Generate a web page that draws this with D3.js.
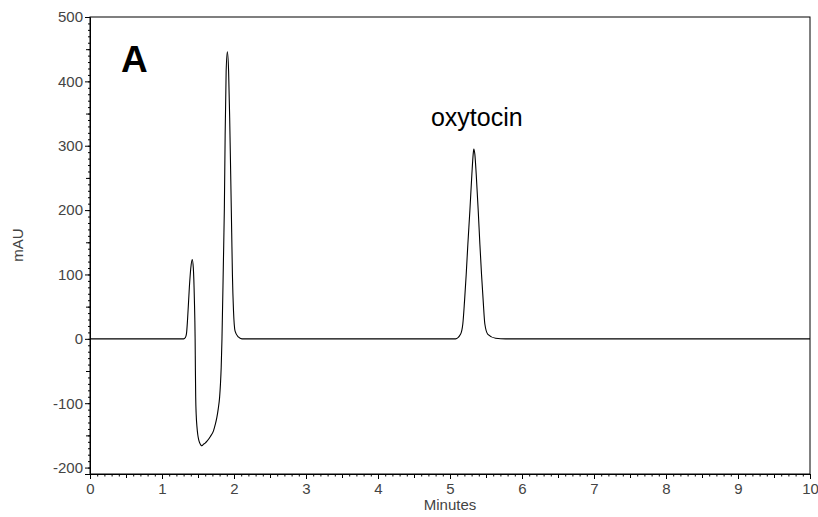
<!DOCTYPE html>
<html>
<head>
<meta charset="utf-8">
<script src="https://cdn.jsdelivr.net/npm/d3@7"></script>
<style>
  body { margin: 0; background: #fff; }
  text { font-family: "Liberation Sans", Arial, sans-serif; }
</style>
</head>
<body>
<script>
// trace (time in minutes, signal in mAU)
const timeMin = [
    0, 1.30, 1.325, 1.34, 1.355, 1.38, 1.40, 1.42, 1.435, 1.45, 1.46,
    1.464, 1.468, 1.475, 1.485, 1.497, 1.51, 1.525, 1.54, 1.555, 1.575, 1.60, 1.625,
    1.67, 1.715, 1.74, 1.762, 1.782, 1.80, 1.812, 1.822, 1.833,
    1.853, 1.866, 1.877, 1.891, 1.908,
    1.925, 1.94, 1.954, 1.968, 1.978, 1.993, 2.015, 2.06, 2.11,
    5.05, 5.077, 5.146, 5.178, 5.202, 5.225, 5.248, 5.276, 5.304, 5.322, 5.331,
    5.345, 5.364, 5.392, 5.415, 5.438, 5.461, 5.484, 5.526, 5.633, 5.772, 10
];
const signalMAU = [
    0, 0, 2, 8, 30, 80, 110, 123, 110, 60, 0,
    -50, -90, -118, -136, -149, -157, -162, -165, -166, -164, -162, -159,
    -152, -143, -133, -122, -108, -91, -70, -45, 0,
    121, 202, 316, 416, 446,
    416, 343, 256, 165, 100, 44, 12, 3, 0,
    0, 0, 7, 23, 59, 100, 147, 199, 256, 287, 295,
    287, 256, 199, 147, 100, 59, 23, 7, 1, 0, 0
];
const xTicks = [0, 1, 2, 3, 4, 5, 6, 7, 8, 9, 10];
const yTicks = [-200, -100, 0, 100, 200, 300, 400, 500];
const peakLabel = {text: "oxytocin", time: 5.33, value: 295};
const panelLetter = "A";

const W = 818, H = 517;
const margin = {top: 17, right: 8, bottom: 43, left: 90};
const width = W - margin.left - margin.right;
const height = H - margin.top - margin.bottom;

const data = timeMin.map((t, i) => ({t: t, v: signalMAU[i]}));

const svg = d3.select("body").append("svg")
    .attr("width", W)
    .attr("height", H);

const g = svg.append("g")
    .attr("transform", "translate(" + margin.left + "," + margin.top + ")");

const xScale = d3.scaleLinear().domain([0, 10]).range([0, width]);
const yScale = d3.scaleLinear().domain([-210, 500]).range([height, 0]);

const labelColor = "#444";
const plain = d => String(d);   // keep ascii hyphen for negatives

// minor / mid ticks first, labelled ticks on top
g.append("g")
    .attr("transform", "translate(0," + height + ")")
    .call(d3.axisBottom(xScale).tickValues(d3.range(0, 100.5, 1).map(d => d / 10)).tickSize(2.5).tickFormat(""))
    .call(a => a.select(".domain").remove());
g.append("g")
    .attr("transform", "translate(0," + height + ")")
    .call(d3.axisBottom(xScale).tickValues(d3.range(0.5, 10, 1)).tickSize(4).tickFormat(""))
    .call(a => a.select(".domain").remove());
const xAxis = g.append("g")
    .attr("transform", "translate(0," + height + ")")
    .call(d3.axisBottom(xScale).tickValues(xTicks).tickSize(5).tickPadding(4).tickFormat(plain));
xAxis.selectAll("text").style("font-size", "15px").attr("fill", labelColor);

g.append("g")
    .call(d3.axisLeft(yScale).tickValues(d3.range(-210, 501, 10)).tickSize(2).tickFormat(""))
    .call(a => a.select(".domain").remove());
g.append("g")
    .call(d3.axisLeft(yScale).tickValues(d3.range(-150, 500, 100)).tickSize(4).tickFormat(""))
    .call(a => a.select(".domain").remove());
const yAxis = g.append("g")
    .call(d3.axisLeft(yScale).tickValues(yTicks).tickSize(5).tickPadding(2).tickFormat(plain));
yAxis.selectAll("text").style("font-size", "15px").attr("fill", labelColor);

g.selectAll(".domain").attr("stroke", "#000");

// frame
g.append("rect")
    .attr("width", width)
    .attr("height", height)
    .attr("fill", "none")
    .attr("stroke", "#000");

// trace
g.append("path")
    .datum(data)
    .attr("fill", "none")
    .attr("stroke", "#000")
    .attr("stroke-width", 1.1)
    .attr("d", d3.line()
        .x(d => xScale(d.t))
        .y(d => yScale(d.v))
        .curve(d3.curveMonotoneX));

// annotations
g.append("text")
    .attr("x", xScale(peakLabel.time) + 3)
    .attr("y", yScale(peakLabel.value) - 23)
    .attr("text-anchor", "middle")
    .style("font-size", "25px")
    .attr("fill", "#000")
    .text(peakLabel.text);

g.append("text")
    .attr("x", 31)
    .attr("y", 55)
    .style("font-size", "37px")
    .style("font-weight", "bold")
    .attr("fill", "#000")
    .text(panelLetter);

// axis titles
svg.append("text")
    .attr("x", margin.left + width / 2)
    .attr("y", 510)
    .attr("text-anchor", "middle")
    .style("font-size", "15px")
    .attr("fill", labelColor)
    .text("Minutes");

svg.append("text")
    .attr("transform", "translate(23,245) rotate(-90)")
    .attr("text-anchor", "middle")
    .style("font-size", "15px")
    .attr("fill", labelColor)
    .text("mAU");
</script>
</body>
</html>
